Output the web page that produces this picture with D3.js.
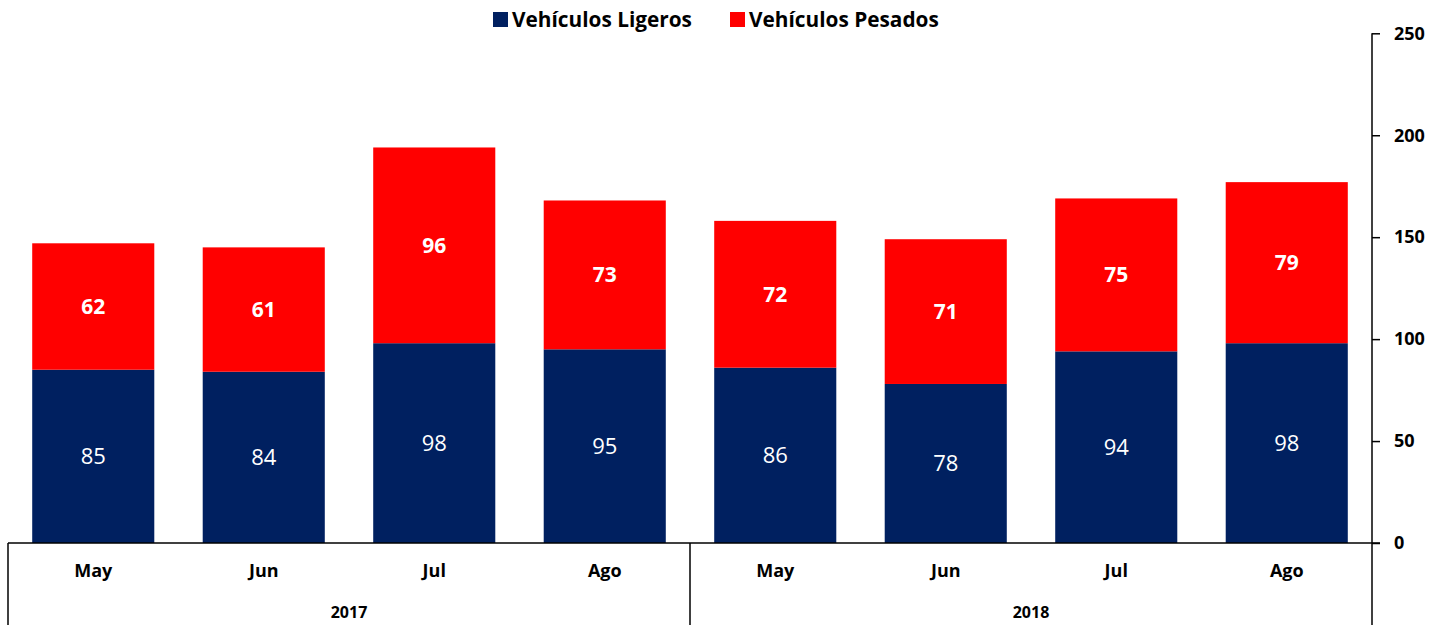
<!DOCTYPE html>
<html>
<head>
<meta charset="utf-8">
<script src="https://cdn.jsdelivr.net/npm/d3@7"></script>
<style>
  body { margin: 0; background: #fff; }
  svg { display: block; font-family: "Open Sans", Lato, sans-serif; }
</style>
</head>
<body>
<svg id="chart" width="1445" height="625"></svg>
<script>
const months = ["May", "Jun", "Jul", "Ago", "May", "Jun", "Jul", "Ago"];
const years = ["2017", "2018"];
const ligeros = [85, 84, 98, 95, 86, 78, 94, 98];
const pesados = [62, 61, 96, 73, 72, 71, 75, 79];
const seriesNames = ["Vehículos Ligeros", "Vehículos Pesados"];
const seriesColors = ["#002060", "#FF0000"];
const yTicks = [0, 50, 100, 150, 200, 250];

(function () {
const svg = d3.select("#chart");
const mLeft = 8, mRight = 1372, mTop = 33.3, mBottom = 543;

const x = d3.scaleBand().domain(d3.range(months.length)).range([mLeft, mRight]).paddingInner(0.284).paddingOuter(0.142);
const y = d3.scaleLinear().domain([0, 250]).range([mBottom, mTop]);

const rows = months.map((m, i) => ({ i, ligeros: ligeros[i], pesados: pesados[i] }));
const stack = d3.stack().keys(["ligeros", "pesados"])(rows);

stack.forEach((layer, li) => {
  svg.append("g").selectAll("rect").data(layer).join("rect")
    .attr("x", d => x(d.data.i))
    .attr("width", x.bandwidth())
    .attr("y", d => y(d[1]))
    .attr("height", d => y(d[0]) - y(d[1]))
    .attr("fill", seriesColors[li]);
  svg.append("g").selectAll("text").data(layer).join("text")
    .attr("x", d => x(d.data.i) + x.bandwidth() / 2)
    .attr("y", d => (y(d[0]) + y(d[1])) / 2)
    .attr("dy", "0.35em")
    .attr("text-anchor", "middle")
    .attr("fill", "#fff")
    .attr("font-size", li === 0 ? 22 : 21)
    .attr("font-weight", li === 0 ? 400 : 700)
    .text(d => d[1] - d[0]);
});

// right axis
const yAxis = d3.axisRight(y).tickValues(yTicks).tickSize(8).tickPadding(14);
const ag = svg.append("g").attr("transform", `translate(${mRight},0)`).call(yAxis);
ag.select(".domain").remove();
ag.selectAll(".tick line").attr("stroke", "#000").attr("stroke-width", 1.5);
ag.selectAll(".tick text").attr("font-size", 18).attr("font-weight", 700).attr("fill", "#000")
  .attr("font-family", "'Open Sans', sans-serif");
svg.append("line").attr("x1", mRight).attr("x2", mRight).attr("y1", y(250)).attr("y2", 625)
  .attr("stroke", "#000").attr("stroke-width", 1.5);

// baseline and category frame
svg.append("line").attr("x1", mLeft).attr("x2", mRight + 8).attr("y1", y(0)).attr("y2", y(0))
  .attr("stroke", "#000").attr("stroke-width", 1.5);
const groupEdges = [mLeft, (mLeft + mRight) / 2, mRight];
groupEdges.slice(0, 2).forEach(gx => {
  svg.append("line").attr("x1", gx).attr("x2", gx).attr("y1", y(0)).attr("y2", 625)
    .attr("stroke", "#000").attr("stroke-width", 1.5);
});

svg.append("g").selectAll("text").data(months).join("text")
  .attr("x", (d, i) => x(i) + x.bandwidth() / 2)
  .attr("y", 571).attr("dy", "0.35em")
  .attr("text-anchor", "middle").attr("font-size", 18).attr("font-weight", 700)
  .text(d => d);

svg.append("g").selectAll("text").data(years).join("text")
  .attr("x", (d, i) => (groupEdges[i] + groupEdges[i + 1]) / 2)
  .attr("y", 612).attr("dy", "0.35em")
  .attr("text-anchor", "middle").attr("font-size", 16).attr("font-weight", 700)
  .text(d => d);

// legend
const legendX = [493, 730];
const lg = svg.append("g");
seriesNames.forEach((n, i) => {
  lg.append("rect").attr("x", legendX[i]).attr("y", 12).attr("width", 15).attr("height", 15).attr("fill", seriesColors[i]);
  lg.append("text").attr("x", legendX[i] + 19).attr("y", 19.5).attr("dy", "0.35em")
    .attr("font-size", 20.8).attr("font-weight", 700).attr("fill", "#000").text(n);
});
})();
</script>
</body>
</html>
